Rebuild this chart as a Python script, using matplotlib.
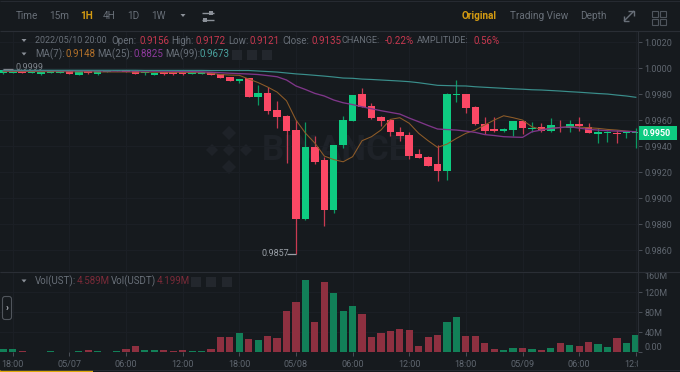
import matplotlib
matplotlib.use("Agg")
import matplotlib.pyplot as plt
from matplotlib.patches import Rectangle, FancyBboxPatch, Polygon
from matplotlib.transforms import Bbox
import numpy as np

plt.rcParams['font.family'] = ['Roboto', 'DejaVu Sans']

opens = [.99959,.99964,.99985,.99964,.99956,.99964,.99964,.99977,.99948,.99979,.99952,.99969,.99975,.99987,.99977,.99959,.99946,.99967,.99967,.99967,
         .99952,.99956,.99967,.99954,.99928,.99900,.99921,.99775,.99808,.99679,.99631,.99521,.98841,.99392,.99292,.98910,.99408,.99595,.99800,.99710,
         .99621,.99602,.99510,.99482,.99341,.99313,.99264,.99205,.99790,.99800,.99702,.99569,.99528,.99518,.99525,.99590,.99528,.99548,.99518,.99548,
         .99536,.99569,.99548,.99495,.99498,.99502,.99498,.99498]
highs = [.99985,.99977,.99985,.99977,.99972,.99977,.99977,.99977,.99977,.99985,.99977,.99977,.99987,.99987,.99979,.99967,.99962,.99967,.99967,.99969,
         .99969,.99969,.99967,.99954,.99928,.99918,.99921,.99867,.99852,.99748,.99638,.99600,.99587,.99479,.99313,.99410,.99631,.99790,.99848,.99731,
         .99631,.99608,.99548,.99510,.99379,.99323,.99408,.99805,.99908,.99800,.99708,.99621,.99621,.99538,.99592,.99590,.99587,.99575,.99618,.99600,
         .99600,.99621,.99575,.99536,.99518,.99523,.99518,.99536]
lows = [.99954,.99959,.99959,.99959,.99948,.99964,.99964,.99952,.99948,.99956,.99948,.99969,.99975,.99969,.99952,.99944,.99946,.99944,.99944,.99948,
        .99952,.99956,.99944,.99923,.99900,.99887,.99775,.99715,.99646,.99536,.99272,.98570,.98833,.99259,.98785,.98882,.99387,.99595,.99702,.99608,
        .99556,.99479,.99438,.99302,.99308,.99246,.99131,.99138,.99738,.99656,.99562,.99492,.99510,.99508,.99477,.99490,.99505,.99510,.99510,.99505,
        .99510,.99515,.99498,.99421,.99428,.99421,.99459,.99385]
closes = [.99982,.99972,.99964,.99975,.99969,.99977,.99977,.99952,.99977,.99964,.99977,.99977,.99987,.99969,.99952,.99967,.99959,.99952,.99952,.99952,
          .99967,.99967,.99944,.99923,.99902,.99918,.99775,.99808,.99672,.99623,.99513,.98841,.99392,.99277,.98910,.99410,.99600,.99790,.99702,.99613,
          .99595,.99505,.99477,.99325,.99308,.99246,.99205,.99800,.99800,.99695,.99567,.99515,.99515,.99528,.99590,.99536,.99541,.99518,.99559,.99536,
          .99569,.99556,.99498,.99505,.99505,.99492,.99505,.99505]
ma7 = [.99973,.99973,.99973,.99973,.99972,.99972,.99972,.99971,.99971,.99971,.99970,.99970,.99970,.99970,.99969,.99969,.99968,.99968,.99967,.99967,
       .99965,.99964,.99960,.99950,.99946,.99944,.99915,.99888,.99854,.99815,.99748,.99600,.99500,.99423,.99323,.99296,.99279,.99318,.99441,.99472,
       .99523,.99605,.99618,.99575,.99498,.99441,.99390,.99415,.99459,.99498,.99523,.99562,.99600,.99633,.99618,.99600,.99548,.99528,.99535,.99544,
       .99548,.99546,.99541,.99536,.99528,.99523,.99515,.99510]
ma25 = [.99980,.99980,.99980,.99980,.99980,.99980,.99979,.99979,.99979,.99979,.99978,.99978,.99978,.99977,.99977,.99977,.99976,.99976,.99975,.99974,
        .99973,.99971,.99968,.99964,.99960,.99957,.99954,.99950,.99942,.99933,.99908,.99862,.99835,.99805,.99785,.99754,.99733,.99719,.99702,.99687,
        .99672,.99659,.99646,.99615,.99587,.99558,.99531,.99527,.99523,.99515,.99505,.99488,.99481,.99472,.99469,.99467,.99510,.99523,.99536,.99542,
        .99548,.99538,.99528,.99523,.99518,.99515,.99513,.99510]
ma99 = [.99983,.99983,.99983,.99983,.99983,.99983,.99983,.99983,.99983,.99983,.99983,.99983,.99983,.99983,.99983,.99982,.99982,.99982,.99982,.99982,
        .99982,.99982,.99981,.99981,.99981,.99981,.99981,.99977,.99973,.99969,.99962,.99955,.99950,.99944,.99938,.99931,.99923,.99921,.99915,.99912,
        .99908,.99904,.99900,.99895,.99887,.99877,.99867,.99865,.99863,.99862,.99856,.99852,.99848,.99844,.99840,.99837,.99833,.99831,.99827,.99823,
        .99818,.99814,.99809,.99804,.99800,.99792,.99785,.99775]
volumes = [6.7,6,2.7,.7,.7,2,.7,.7,2.7,3.3,2,.7,2,6,12.7,4.7,4.7,4.7,2.7,4,
           2,2.7,6,30.7,30,38,26,23.3,32.7,27.3,81.3,101,144,61,140.7,119,81.3,92,76,30.7,
           37.3,42.7,45.3,44.7,12.7,30,34,60.7,70.7,31.3,32,17.3,5.3,3.3,7.3,7.3,5.3,3.3,7.3,18,
           13.3,11.3,19.3,16.7,10.7,27.3,18,33.3]
time_ticks = [1,7,13,19,25,31,37,43,49,55,61,67]
time_labels = ['18:00','05/07','06:00','12:00','18:00','05/08','06:00','12:00','18:00','05/09','06:00','12:00']
price_ticks = [1.0020,1.0000,0.9980,0.9960,0.9940,0.9920,0.9900,0.9880,0.9860]
vol_ticks = [0,40,80,120,160]
vol_labels = ['0.00','40M','80M','120M','160M']

BG='#161a1e'; GRID='#1c2026'; LINE='#2a2e35'; GREY='#686f78'; TICK='#5f666f'
GREEN='#0ecb81'; RED='#fb4865'; VG='#128058'; VR='#8e3040'
W,H=680,372
fig=plt.figure(figsize=(W/100,H/100),dpi=100,facecolor=BG)
def box(l,t,r,b): return [l/W,1-b/H,(r-l)/W,(b-t)/H]

idx=np.arange(len(opens))
o,h,l,c=map(np.array,(opens,highs,lows,closes))
up=c>=o
cols=[GREEN if u else RED for u in up]
XLIM=(-0.35,67.2)

# watermark sits under the chart axes
bg=fig.add_axes([0,0,1,1],facecolor=BG)
bg.set_xlim(0,W); bg.set_ylim(H,0); bg.axis('off')
wm='#1e2228'
for (cx,cy,r) in [(229,150,6),(229,133,7),(229,167,7),(212,150,6),(246,150,6)]:
    bg.add_patch(Polygon([(cx-r,cy),(cx,cy-r),(cx+r,cy),(cx,cy+r)],fc=wm,ec='none'))
bg.text(262,151,'BINANCE',color=wm,fontsize=25,fontweight='bold',ha='left',va='center')

ax=fig.add_axes(box(0,31.5,637.7,271),facecolor='none')
ax.set_xlim(*XLIM); ax.set_ylim(.98439,1.00281)
ax.set_xticks(time_ticks); ax.set_yticks(price_ticks)
ax.grid(True,color=GRID,lw=0.7); ax.set_axisbelow(True)
ax.tick_params(axis='x',length=0,labelbottom=False)
ax.yaxis.tick_right()
ax.set_yticklabels([f'{p:.4f}' for p in price_ticks])
ax.tick_params(axis='y',length=3,width=0.7,color='#4a4f57',labelcolor=TICK,labelsize=6.5,pad=2)
for s in ax.spines.values(): s.set_visible(False)

ax.vlines(idx,l,h,colors=[('#0b9a63' if u else '#c93a52') for u in up],lw=0.9,zorder=3)
ax.bar(idx,np.maximum(np.abs(c-o),0.00006),bottom=np.minimum(o,c),width=0.8,color=cols,lw=0,zorder=4)
ax.plot(idx,ma7,color='#8f5c28',lw=0.75,zorder=5)
ax.plot(idx,ma25,color='#7f3689',lw=0.95,zorder=5)
ax.plot(idx,ma99,color='#3a8f8c',lw=0.85,zorder=5)

av=fig.add_axes(box(0,272,637.7,352),facecolor=BG)
av.set_xlim(*XLIM); av.set_ylim(0,160)
av.bar(idx,volumes,width=0.76,color=[VG if u else VR for u in up],lw=0,zorder=3)
av.set_xticks(time_ticks); av.set_xticklabels(time_labels)
av.set_yticks(vol_ticks); av.set_yticklabels(vol_labels)
av.yaxis.tick_right()
av.grid(True,color=GRID,lw=0.7); av.set_axisbelow(True)
av.tick_params(axis='x',length=3,width=0.7,color='#4a4f57',labelcolor=TICK,labelsize=6.5,pad=3)
av.tick_params(axis='y',length=3,width=0.7,color='#4a4f57',labelcolor=TICK,labelsize=6.5,pad=2)
for s in av.spines.values(): s.set_visible(False)
ylabs=av.get_yticklabels()
ylabs[0].set_va('bottom'); ylabs[-1].set_va('top')
clip=Bbox.from_extents(0,0,637.7,H)
xl=av.get_xticklabels()
xl[-1].set_clip_box(clip); xl[-1].set_clip_on(True)

ov=fig.add_axes([0,0,1,1],facecolor='none')
ov.set_xlim(0,W); ov.set_ylim(H,0); ov.axis('off')
def T(x,y,s,col=GREY,size=7,ha='left',**k):
    ov.text(x,y,s,color=col,fontsize=size,ha=ha,va='center',**k)
def L(xs,ys,col=LINE,lw=0.8,**k):
    ov.plot(xs,ys,color=col,lw=lw,solid_capstyle='butt',**k)
def tri(x,y,col='#8b9098'):
    ov.add_patch(Polygon([(x-2.5,y-1.5),(x+2.5,y-1.5),(x,y+1.5)],fc=col,ec='none'))
def square(x,y):
    ov.add_patch(Rectangle((x-5,y-5),10,10,fc='#23272d',ec='none'))

# frame lines
L([0,W],[31,31]); L([0,W],[271.5,271.5]); L([637.7,637.7],[31,352]); L([0,W],[0.5,0.5],lw=0.6)
L([0,W],[369.5,369.5],lw=0.6)
ov.add_patch(Rectangle((0,370),93,2,fc='#e0a90b',ec='none'))

# toolbar
for x,s,col,fw in [(16,'Time',GREY,'normal'),(49,'15m',GREY,'normal'),(80,'1H','#d39a12','bold'),
                   (103,'4H',GREY,'normal'),(127,'1D',GREY,'normal'),(151,'1W',GREY,'normal')]:
    T(x,16,s,col,size=7.2,fontweight=fw)
tri(183,15.5)
for yy,xx in [(12.5,211),(19.5,205)]:
    L([202,214],[yy,yy],'#8b9098',1.0)
    ov.add_patch(Rectangle((xx-2,yy-2),4,4,fc='#8b9098',ec='none'))
T(462,16,'Original','#d39a12',size=7.2,fontweight='bold')
T(510,16,'Trading View',GREY,size=7.2)
T(580,16,'Depth',GREY,size=7.2)
L([624,634],[21,11],GREY,1.0); L([628,634,634],[11,11,16],GREY,1.0); L([624,624,629],[16,21,21],GREY,1.0)
for xx in [652,660]:
    for yy in [11,19]:
        ov.add_patch(Rectangle((xx,yy),6,6,fc='none',ec='#4f555d',lw=0.8))

# info lines
tri(24,40.5); tri(24,54)
DR='#c8384f'
for x,s,col,sz in [(35,'2022/05/10 20:00',GREY,6.4),(111,'Open:',GREY,7),(140,'0.9156',DR,7),(171,'High:',GREY,7),(196,'0.9172',DR,7),
                (228,'Low:',GREY,7),(250,'0.9121',DR,7),(282,'Close:',GREY,7),(311,'0.9135',DR,7),(342,'CHANGE:',GREY,6.6),
                (385,'-0.22%',DR,7),(417,'AMPLITUDE:',GREY,6.6),(474,'0.56%',DR,7)]:
    T(x,40.5,s,col,size=sz)
for x,s,col in [(35,'MA(7):',GREY),(66,'0.9148','#b5722a'),(97,'MA(25):',GREY),(133,'0.8825','#8e3a9d'),
                (165,'MA(99):',GREY),(200,'0.9673','#4aa3a0')]:
    T(x,54,s,col,size=7)
for x in [237,252,267]: square(x,54.5)
tri(24,281)
for x,s,col in [(35,'Vol(UST):',GREY),(77,'4.589M','#7a2a38'),(111,'Vol(USDT)',GREY),(157,'4.199M','#7a2a38')]:
    T(x,281,s,col,size=7)
for x in [196,211,227]: square(x,281.5)

# left button
ov.add_patch(FancyBboxPatch((4,298),6,20,boxstyle='round,pad=1.5,rounding_size=2.5',fc=BG,ec='#50555c',lw=0.8))
T(7,308,'›','#b8bcc2',size=7,ha='center',fontweight='bold')

# annotations
L([3,13],[69,69],'#7e848c',0.9); T(15,68,'0.9999','#7e848c',size=6.5)
L([287,296],[253.7,253.7],'#9aa0a7',0.9); T(261,253.7,'0.9857','#9aa0a7',size=6.5)

# last price tag
ov.add_patch(Rectangle((637.7,126),39,14,fc='#0ecb81',ec='none'))
T(657,133,'0.9950','white',size=6.5,ha='center',fontweight='bold')

fig.savefig('out.png',dpi=100,facecolor=BG)
